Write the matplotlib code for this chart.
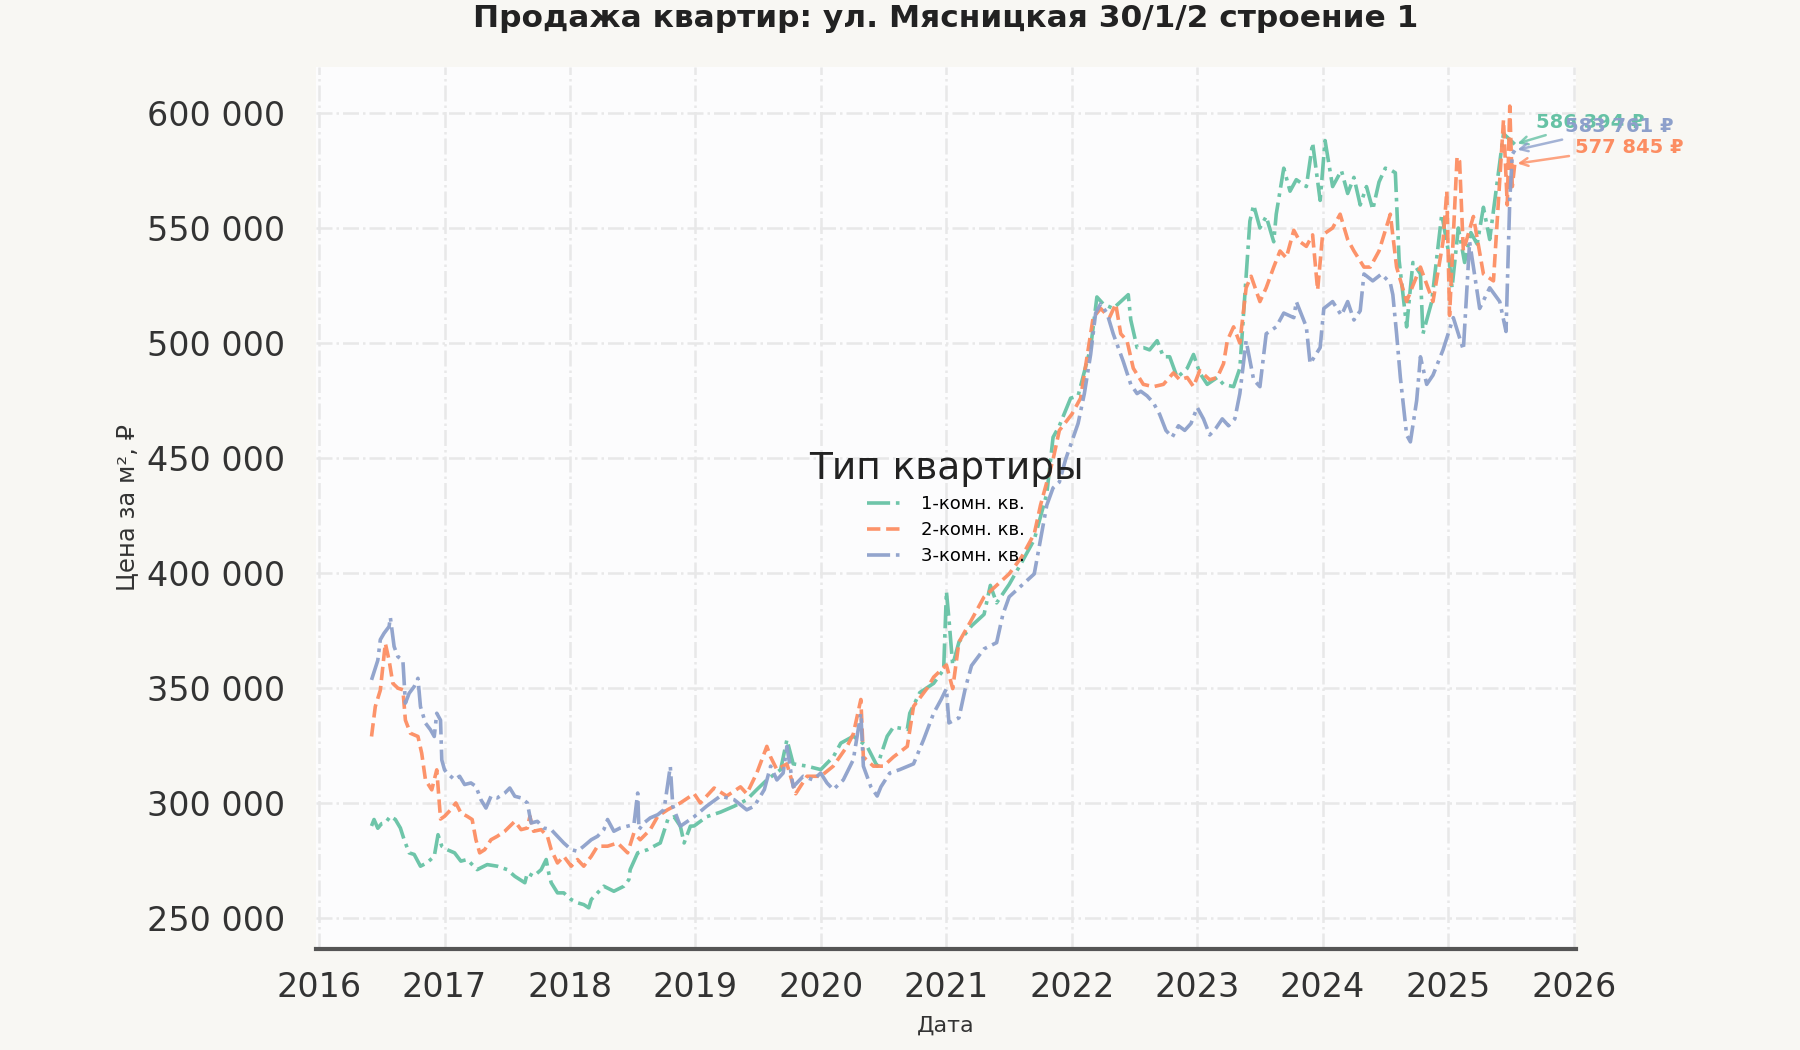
import pandas as pd
import matplotlib
matplotlib.use("Agg")
import matplotlib.pyplot as plt
import matplotlib.dates as mdates
from matplotlib.ticker import FuncFormatter

plt.rcParams['font.family'] = ['DejaVu Sans']

title = "Продажа квартир: ул. Мясницкая 30/1/2 строение 1"
labels = ["1-комн. кв.", "2-комн. кв.", "3-комн. кв."]
colors = ["#66c2a5", "#fc8d62", "#8da0cb"]
styles = ["-.", "--", "-."]
last_values = [586394, 577845, 583761]

# time as fraction of year, price in thousand rubles per m2
t1 = [2016.42, 2016.44, 2016.47, 2016.50, 2016.53, 2016.57, 2016.61, 2016.65, 2016.68, 2016.72,
      2016.76, 2016.81, 2016.86, 2016.92, 2016.95, 2016.98, 2017.02, 2017.08, 2017.13, 2017.18,
      2017.26, 2017.34, 2017.42, 2017.50, 2017.56, 2017.64, 2017.66, 2017.71, 2017.77, 2017.81,
      2017.83, 2017.85, 2017.90, 2017.95, 2018.01, 2018.06, 2018.11, 2018.15, 2018.17, 2018.22,
      2018.27, 2018.35, 2018.43, 2018.47, 2018.48, 2018.54, 2018.62, 2018.67, 2018.72, 2018.78,
      2018.83, 2018.88, 2018.91, 2018.96, 2018.99, 2019.09, 2019.20, 2019.31, 2019.41, 2019.49,
      2019.57, 2019.68, 2019.73, 2019.78, 2019.89, 2020.00, 2020.10, 2020.16, 2020.26, 2020.37,
      2020.45, 2020.53, 2020.58, 2020.69, 2020.71, 2020.79, 2020.90, 2020.98, 2021.00, 2021.02,
      2021.05, 2021.10, 2021.20, 2021.30, 2021.35, 2021.40, 2021.50, 2021.60, 2021.65, 2021.70,
      2021.80, 2021.85, 2021.90, 2021.99, 2022.05, 2022.15, 2022.20, 2022.25, 2022.33, 2022.37,
      2022.45, 2022.47, 2022.52, 2022.57, 2022.62, 2022.68, 2022.73, 2022.78, 2022.84, 2022.92,
      2022.97, 2023.02, 2023.08, 2023.16, 2023.21, 2023.29, 2023.34, 2023.38, 2023.42, 2023.45,
      2023.50, 2023.55, 2023.61, 2023.63, 2023.69, 2023.74, 2023.79, 2023.87, 2023.92, 2023.98,
      2024.02, 2024.08, 2024.15, 2024.20, 2024.25, 2024.30, 2024.35, 2024.40, 2024.45, 2024.50,
      2024.55, 2024.58, 2024.61, 2024.67, 2024.72, 2024.78, 2024.80, 2024.87, 2024.95, 2025.00,
      2025.03, 2025.08, 2025.13, 2025.18, 2025.23, 2025.28, 2025.33, 2025.38, 2025.44, 2025.53]
v1 = [290, 292.8, 289, 291, 291.3, 294.2, 292.8, 289.1, 284, 278.3,
      277.6, 272.5, 273.9, 276.8, 286.2, 281.2, 279.7, 278.3, 274.7, 275.4,
      271, 273.2, 272.5, 271, 268.1, 265.3, 269.6, 268.1, 271, 275.4,
      269.6, 265.3, 260.9, 260.9, 258, 256.6, 255.8, 254.4, 258, 260.9,
      263.8, 261.6, 263.8, 266.7, 271, 278.3, 279.7, 281.2, 282.6, 292.8,
      294, 289.9, 282.6, 289.9, 290, 294, 296, 298.6, 301.4, 305.8,
      310, 314.5, 327.5, 317, 316, 314.5, 320, 326, 329, 324.6,
      316, 329, 333, 332, 339, 348, 352, 358, 392, 380,
      360, 370, 377, 382, 394.6, 387, 395, 404.6, 409.6, 414.5,
      434.5, 459, 464, 476, 477, 498, 520, 517, 515, 517,
      521, 510, 498, 498, 497, 501, 494, 494, 485, 489,
      495, 487, 482, 485, 482, 481, 489, 521, 553, 560,
      550, 555, 544, 556, 576, 566, 571, 568, 587, 562,
      588, 568, 575, 565, 572, 560, 568, 558, 570, 576,
      575, 574, 536, 507, 535, 530, 504, 518, 556, 540,
      524, 550, 535, 548, 543, 559, 545, 566, 591, 586.394]

t2 = [2016.42, 2016.45, 2016.49, 2016.53, 2016.56, 2016.59, 2016.63, 2016.67, 2016.69, 2016.73,
      2016.79, 2016.82, 2016.85, 2016.90, 2016.94, 2016.97, 2017.00, 2017.05, 2017.09, 2017.13,
      2017.18, 2017.22, 2017.25, 2017.28, 2017.32, 2017.37, 2017.42, 2017.48, 2017.56, 2017.61,
      2017.66, 2017.68, 2017.71, 2017.77, 2017.82, 2017.85, 2017.90, 2017.95, 2018.01, 2018.06,
      2018.11, 2018.17, 2018.22, 2018.30, 2018.38, 2018.46, 2018.51, 2018.56, 2018.64, 2018.70,
      2018.78, 2018.88, 2018.96, 2018.99, 2019.04, 2019.15, 2019.25, 2019.36, 2019.41, 2019.49,
      2019.57, 2019.60, 2019.65, 2019.73, 2019.80, 2019.89, 2020.00, 2020.10, 2020.21, 2020.26,
      2020.32, 2020.34, 2020.42, 2020.50, 2020.58, 2020.69, 2020.74, 2020.85, 2020.90, 2021.00,
      2021.05, 2021.10, 2021.20, 2021.30, 2021.40, 2021.50, 2021.60, 2021.70, 2021.75, 2021.80,
      2021.85, 2021.90, 2022.00, 2022.07, 2022.17, 2022.23, 2022.30, 2022.35, 2022.39, 2022.44,
      2022.49, 2022.57, 2022.65, 2022.73, 2022.81, 2022.86, 2022.92, 2022.97, 2023.02, 2023.10,
      2023.16, 2023.21, 2023.24, 2023.29, 2023.34, 2023.39, 2023.43, 2023.50, 2023.55, 2023.61,
      2023.66, 2023.71, 2023.77, 2023.82, 2023.87, 2023.92, 2023.96, 2024.00, 2024.08, 2024.14,
      2024.20, 2024.25, 2024.33, 2024.38, 2024.45, 2024.54, 2024.59, 2024.67, 2024.72, 2024.78,
      2024.88, 2024.96, 2024.99, 2025.01, 2025.07, 2025.09, 2025.12, 2025.20, 2025.28, 2025.36,
      2025.44, 2025.47, 2025.49, 2025.51, 2025.53]
v2 = [328.9, 341.9, 349, 369.4, 362, 352, 349.9, 349.2, 336, 330.3,
      328.9, 321.6, 310, 305.7, 314.4, 293, 294.2, 297.1, 300, 295.7,
      294.2, 292.8, 284, 278.3, 279.7, 284, 285.5, 287.7, 292, 288.4,
      289.1, 294.2, 287.7, 288.4, 285.5, 279.7, 273.9, 276.8, 272.5, 275.4,
      272.5, 276.8, 281.2, 281.2, 282.6, 278.3, 287, 284, 288.4, 294.2,
      297.1, 300, 302.9, 304, 300, 306.5, 303, 307, 304, 313,
      324.6, 320, 314.5, 317, 304, 311.6, 311.6, 316, 324.6, 330,
      345, 320, 316, 316, 320, 324.6, 342, 350, 354.7, 360,
      349.7, 370, 379.6, 389.6, 394.6, 399.6, 407, 417, 429.5, 439.5,
      449.4, 462, 469, 476, 511, 515, 511, 517, 504, 501,
      489, 482, 481, 482, 487, 484, 485, 481, 488, 484,
      485, 491, 501, 507, 500, 524, 529, 518, 524, 533,
      540, 537, 549, 544, 542, 547, 523, 547, 550, 556,
      545, 540, 533, 533, 540, 556, 533, 518, 525, 533,
      518, 544, 566, 512, 581, 579, 540, 555, 530, 527,
      597, 560, 603, 568, 577.845]

t3 = [2016.42, 2016.47, 2016.49, 2016.52, 2016.56, 2016.57, 2016.60, 2016.63, 2016.67, 2016.69,
      2016.72, 2016.76, 2016.79, 2016.81, 2016.85, 2016.89, 2016.92, 2016.94, 2016.97, 2016.98,
      2017.00, 2017.02, 2017.08, 2017.12, 2017.16, 2017.21, 2017.25, 2017.29, 2017.33, 2017.37,
      2017.42, 2017.48, 2017.52, 2017.56, 2017.61, 2017.66, 2017.69, 2017.74, 2017.79, 2017.85,
      2017.90, 2017.95, 2018.01, 2018.06, 2018.11, 2018.17, 2018.22, 2018.27, 2018.30, 2018.35,
      2018.40, 2018.46, 2018.51, 2018.54, 2018.55, 2018.59, 2018.64, 2018.70, 2018.75, 2018.80,
      2018.82, 2018.88, 2018.91, 2018.99, 2019.09, 2019.20, 2019.31, 2019.41, 2019.47, 2019.55,
      2019.60, 2019.65, 2019.70, 2019.73, 2019.78, 2019.86, 2019.94, 2020.00, 2020.05, 2020.10,
      2020.18, 2020.26, 2020.32, 2020.34, 2020.40, 2020.45, 2020.48, 2020.55, 2020.63, 2020.74,
      2020.82, 2020.90, 2020.96, 2021.00, 2021.02, 2021.10, 2021.15, 2021.20, 2021.30, 2021.40,
      2021.45, 2021.50, 2021.60, 2021.70, 2021.75, 2021.80, 2021.85, 2021.90, 2021.95, 2022.05,
      2022.10, 2022.15, 2022.19, 2022.23, 2022.28, 2022.33, 2022.41, 2022.47, 2022.52, 2022.55,
      2022.60, 2022.65, 2022.70, 2022.75, 2022.80, 2022.85, 2022.90, 2022.95, 2023.00, 2023.05,
      2023.10, 2023.15, 2023.20, 2023.25, 2023.30, 2023.34, 2023.39, 2023.45, 2023.50, 2023.55,
      2023.63, 2023.69, 2023.77, 2023.79, 2023.87, 2023.90, 2023.98, 2024.01, 2024.08, 2024.15,
      2024.20, 2024.25, 2024.30, 2024.33, 2024.40, 2024.47, 2024.54, 2024.56, 2024.59, 2024.62,
      2024.67, 2024.70, 2024.75, 2024.78, 2024.83, 2024.88, 2024.96, 2025.04, 2025.12, 2025.17,
      2025.25, 2025.33, 2025.41, 2025.46, 2025.49, 2025.51, 2025.53]
v3 = [353.5, 362, 371, 373.8, 376.7, 380.7, 368, 363.6, 362, 343.4,
      347.7, 350.6, 354.2, 341.9, 334.7, 331.8, 328.9, 339, 336, 318.7,
      314.4, 313, 310.1, 311.6, 308, 308.7, 307.2, 301.4, 297.8, 302.9,
      302.2, 304.3, 306.5, 302.9, 302.2, 300, 291.3, 292, 289.1, 288.4,
      285.5, 282.6, 279.7, 279, 281.2, 284, 285.5, 288.4, 292.8, 287.7,
      289.1, 289.9, 290.6, 304.3, 288.4, 291.3, 293.5, 294.9, 297.1, 315.9,
      298.6, 289.9, 291, 294, 298.6, 303, 301.4, 297, 298.6, 305.8,
      316, 310, 313, 324.6, 307, 311.6, 310, 313, 308.7, 305.8,
      310, 318.8, 339, 316, 307, 303, 307, 313, 314.5, 317,
      327.5, 339, 345, 349.7, 334.8, 337, 349.7, 359.7, 367, 369.7,
      382, 389.6, 394.6, 399.6, 414.5, 429.5, 437, 439.5, 449.4, 465,
      478, 495, 513, 517, 513, 504, 492, 482, 478, 479,
      477, 474, 469, 462, 459, 464, 462, 465, 472, 467,
      460, 463, 467, 464, 467, 478, 501, 484, 481, 504,
      507, 513, 511, 518, 507, 491, 498, 515, 518, 512,
      518, 510, 514, 530, 527, 530, 526, 521, 504, 485,
      460, 457, 475, 494, 482, 486, 497, 511, 497, 544,
      515, 524, 518, 505, 562, 582, 583.761]


def to_dates(years):
    out = []
    for y in years:
        base = int(y)
        out.append(pd.Timestamp(base, 1, 1) + pd.Timedelta(days=(y - base) * 365.25))
    return out


series_t = [t1, t2, t3]
series_v = [v1, v2, v3]

fig = plt.figure(figsize=(18, 10.5), dpi=100, facecolor="#f8f7f3")
ax = fig.add_axes([0.1756, 0.0962, 0.7, 0.84])
ax.set_facecolor("#fcfcfd")

for t, v, lab, c, ls in zip(series_t, series_v, labels, colors, styles):
    ax.plot(to_dates(t), [x * 1000 for x in v], color=c, linestyle=ls,
            linewidth=2.6, alpha=0.95, label=lab)

# labels at the last point of each series (green, orange, blue)
offsets = [(15, 16), (43, 12), (36, 17)]
for t, v, c, val, off in zip(series_t, series_v, colors, last_values, offsets):
    txt = f"{val:,}".replace(",", " ") + " ₽"
    ax.annotate(txt, xy=(to_dates([t[-1]])[0], v[-1] * 1000), xytext=off,
                textcoords="offset points", ha="left", va="center",
                fontsize=14, fontweight="bold", color=c,
                arrowprops=dict(arrowstyle="->", color=c, lw=1.8, alpha=0.8))

ax.set_xlim(pd.Timestamp("2015-12-24"), pd.Timestamp("2026-01-08"))
ax.set_ylim(236500, 620000)
ax.xaxis.set_major_locator(mdates.YearLocator())
ax.xaxis.set_major_formatter(mdates.DateFormatter("%Y"))
ax.set_yticks(range(250000, 600001, 50000))
ax.yaxis.set_major_formatter(FuncFormatter(lambda x, p: f"{int(x):,}".replace(",", " ")))

ax.grid(True, color="#e8e8e8", linestyle="-.", linewidth=1.8)
ax.set_axisbelow(True)
for s in ["left", "top", "right"]:
    ax.spines[s].set_visible(False)
ax.spines["bottom"].set_color("#555555")
ax.spines["bottom"].set_linewidth(3)
ax.tick_params(axis="both", length=0, labelsize=24, labelcolor="#333333")
ax.tick_params(axis="x", pad=16)
ax.tick_params(axis="y", pad=22)

ax.set_title(title, fontsize=22.5, fontweight="bold", color="#222222", pad=29)
ax.set_xlabel("Дата", fontsize=16, color="#333333", labelpad=8)
ax.set_ylabel("Цена за м², ₽", fontsize=17.5, color="#333333", labelpad=6)

leg = ax.legend(title="Тип квартиры", loc="center", fontsize=13, title_fontsize=27,
                frameon=False, handlelength=2.0, handletextpad=1.0, labelspacing=0.45)
leg.get_title().set_color("#222222")

fig.savefig("out.png", dpi=100, facecolor=fig.get_facecolor())
